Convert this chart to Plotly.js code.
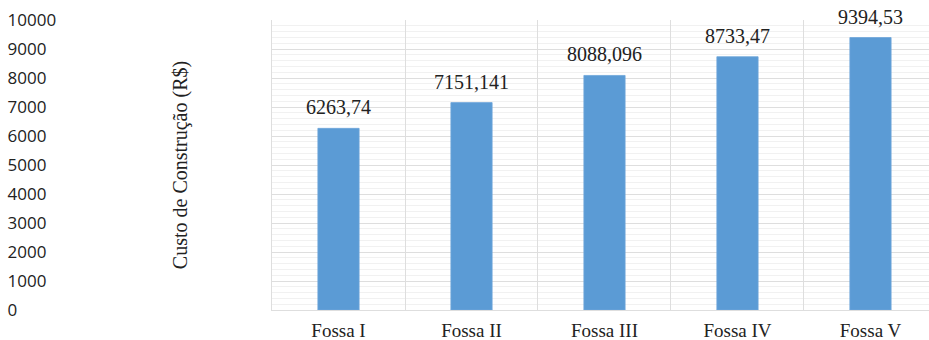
<!DOCTYPE html>
<html>
<head>
<meta charset="utf-8">
<script src="https://cdn.plot.ly/plotly-3.0.1.min.js"></script>
<style>
  html, body { margin: 0; padding: 0; background: #fff; overflow: hidden; }
  #chart { width: 929px; height: 340px; }
</style>
</head>
<body>
<div id="chart"></div>
<script>
const categories = ["Fossa I", "Fossa II", "Fossa III", "Fossa IV", "Fossa V"];
const values = [6263.74, 7151.141, 8088.096, 8733.47, 9394.53];
const valueLabels = ["6263,74", "7151,141", "8088,096", "8733,47", "9394,53"];
const yTickValues = [0, 1000, 2000, 3000, 4000, 5000, 6000, 7000, 8000, 9000, 10000];
const yTickLabels = ["0", "1000", "2000", "3000", "4000", "5000", "6000", "7000", "8000", "9000", "10000"];
const yTitle = "Custo de Construção (R$)";

const serif = "'Liberation Serif', 'Times New Roman', serif";
const sans = "'Open Sans', 'Liberation Sans', sans-serif";
const plotLeft = 272 / 929;
const xRange = [-0.5, 4.44];

const traces = [
  {
    type: "bar",
    x: categories,
    y: values,
    width: 0.31,
    marker: { color: "#5B9BD5", line: { color: "#6FA6DA", width: 0.8 } },
    hoverinfo: "x+y",
    showlegend: false
  },
  {
    type: "scatter",
    mode: "none",
    x: categories,
    y: values,
    yaxis: "y2",
    hoverinfo: "skip",
    showlegend: false
  }
];

const annotations = categories.map((c, i) => ({
  x: c, y: values[i], xref: "x", yref: "y",
  text: valueLabels[i], showarrow: false,
  yanchor: "bottom", yshift: 8,
  font: { family: serif, size: 20, color: "#222" }
}));

const layout = {
  width: 929, height: 340,
  margin: { l: 0, r: 0, t: 20, b: 30 },
  paper_bgcolor: "#fff", plot_bgcolor: "#fff",
  xaxis: {
    type: "category",
    domain: [plotLeft, 1],
    range: xRange,
    tickson: "boundaries",
    ticks: "",
    showgrid: true, gridcolor: "#DEDEDE", gridwidth: 1,
    showline: true, linecolor: "#DEDEDE", linewidth: 1,
    zeroline: false,
    ticklabelstandoff: 3,
    tickfont: { family: serif, size: 19, color: "#222" },
    fixedrange: true
  },
  xaxis2: {
    type: "linear",
    overlaying: "x",
    anchor: "y",
    domain: [plotLeft, 1],
    range: xRange,
    tick0: 0, dtick: 1,
    showgrid: true, gridcolor: "#EFEFEF", gridwidth: 1,
    showticklabels: false, ticks: "", zeroline: false, showline: false,
    fixedrange: true
  },
  yaxis: {
    range: [0, 10000],
    tickvals: yTickValues,
    showticklabels: false,
    ticks: "",
    showgrid: true, gridcolor: "#DEDEDE", gridwidth: 1,
    minor: { dtick: 200, showgrid: true, gridcolor: "#F1F1F1", gridwidth: 1 },
    zeroline: false,
    showline: true, linecolor: "#DEDEDE", linewidth: 1,
    title: { text: yTitle, standoff: 78, font: { family: serif, size: 20, color: "#222" } },
    automargin: false,
    fixedrange: true
  },
  yaxis2: {
    overlaying: "y",
    anchor: "free",
    position: 0.007,
    side: "right",
    range: [0, 10000],
    tickvals: yTickValues,
    ticktext: yTickLabels,
    ticks: "",
    showgrid: false, zeroline: false, showline: false,
    tickfont: { family: sans, size: 17, color: "#222" },
    fixedrange: true
  },
  annotations: annotations,
  showlegend: false
};

Plotly.newPlot("chart", traces, layout, { displayModeBar: false, staticPlot: true });
</script>
</body>
</html>
